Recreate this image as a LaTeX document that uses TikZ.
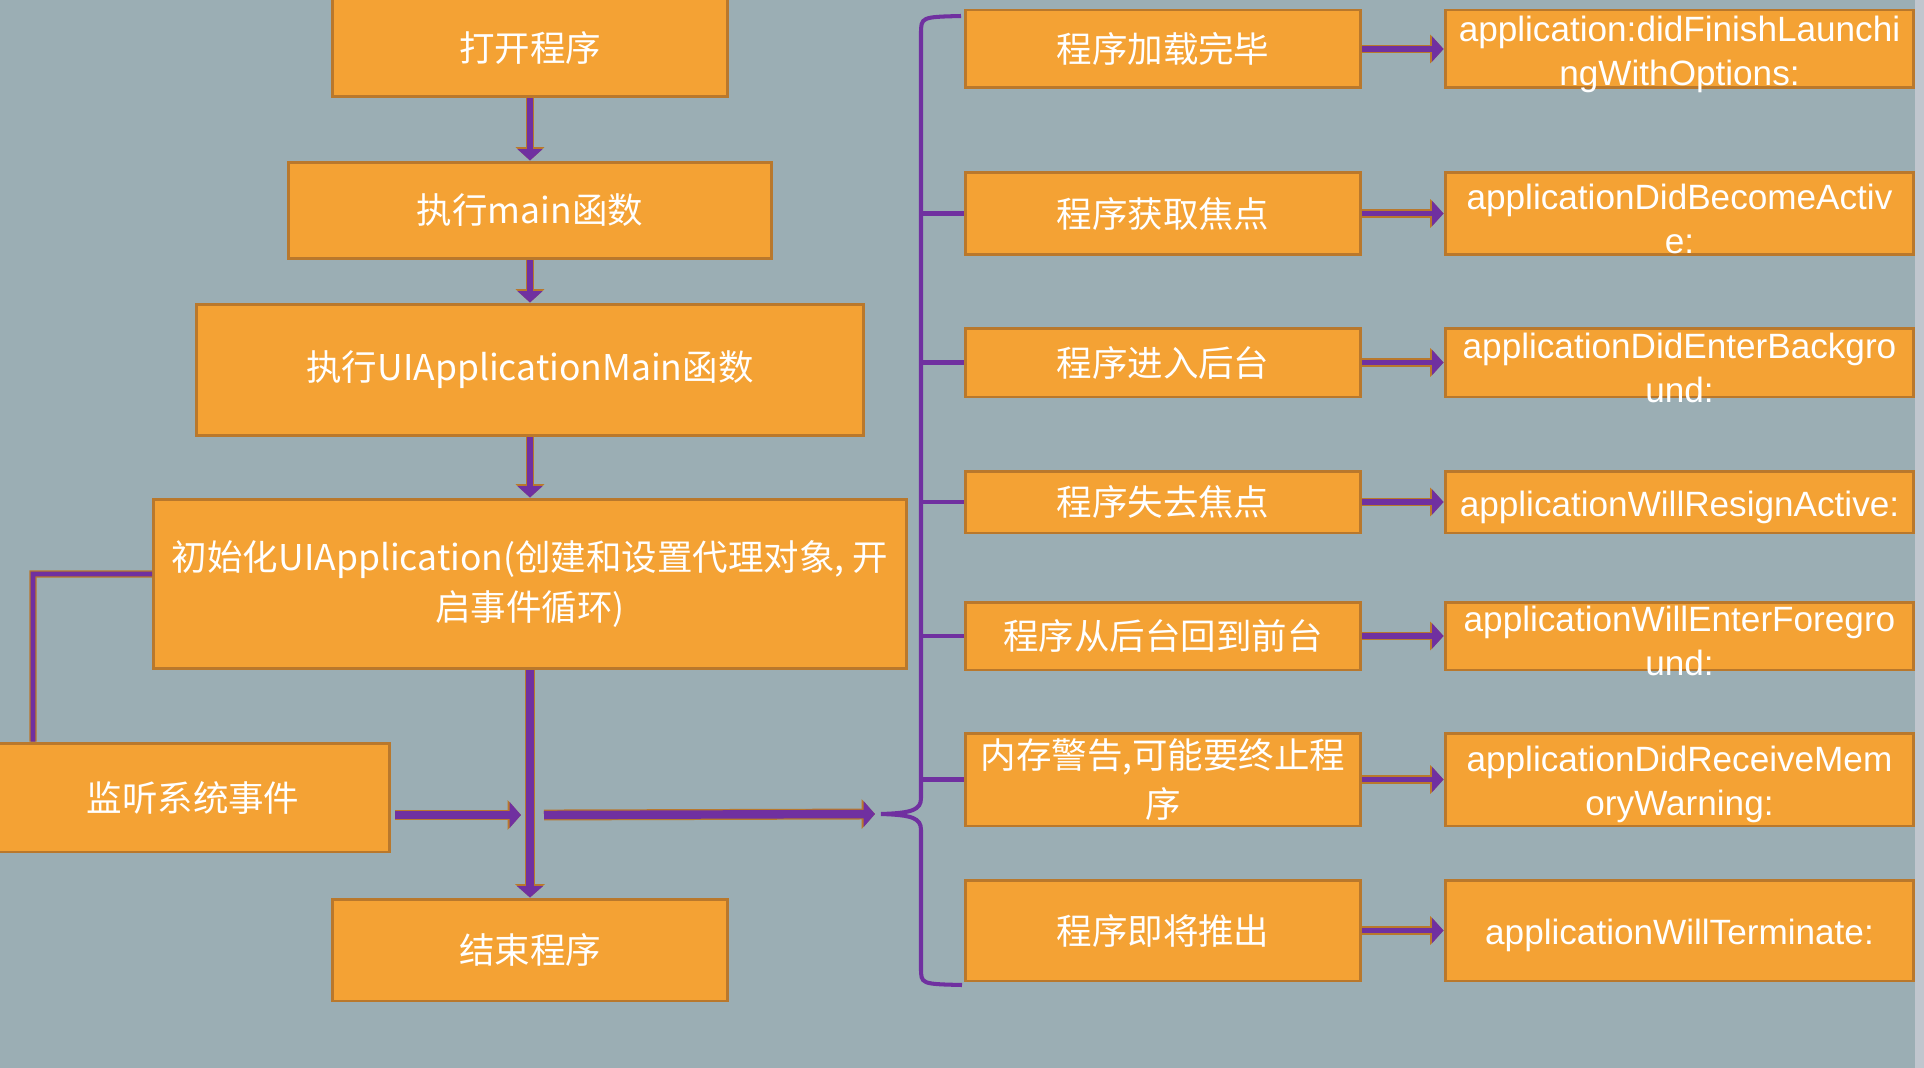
\documentclass[tikz,border=0pt]{standalone}
\usepackage{fontspec}
\newfontfamily\cjkfont{Noto Sans CJK SC}
\newfontfamily\apifont{Liberation Sans}
\usetikzlibrary{arrows.meta}
\definecolor{bgc}{RGB}{155,174,180}
\definecolor{orng}{RGB}{244,162,52}
\definecolor{obrown}{RGB}{185,120,44}
\definecolor{purp}{RGB}{112,48,160}
\definecolor{edgec}{RGB}{192,198,206}
\tikzset{
  box/.style={draw=obrown, fill=orng, line width=1.7pt, inner sep=0pt, text=white,
    align=center, font=\cjkfont\fontsize{20.2pt}{28.2pt}\selectfont},
  api/.style={text=white, inner sep=0pt, align=center, yshift=-0.1cm,
    font=\apifont\fontsize{20pt}{25pt}\selectfont},
  flow/.style={draw=purp, line width=3.4pt, -{Triangle[width=14pt,length=6.5pt]},
    preaction={draw=obrown, line width=4.6pt, -{Triangle[width=16pt,length=7.6pt]}}},
  flowb/.style={draw=purp, line width=4.8pt, -{Triangle[width=14.5pt,length=6.5pt]},
    preaction={draw=obrown, line width=6.2pt, -{Triangle[width=16.5pt,length=7.6pt]}}},
  link/.style={draw=purp, line width=2.8pt, preaction={draw=obrown, line width=4pt}},
  brace/.style={draw=purp, line width=2.3pt}
}

\begin{document}
\begin{tikzpicture}[x=0.02cm, y=-0.02cm]
    \useasboundingbox (0,0) rectangle (1924,1068);
    \fill[bgc] (0,0) rectangle (1924,1068);
    \fill[edgec] (1915,0) rectangle (1924,1068);

    % the brace on the right
    \coordinate (tip) at (881,814);
    \coordinate (spine) at (921,0);
    \draw[brace] (961,16) .. controls (921,17) .. (921,34) -- (921,798)
        .. controls (921,810) and (912,813) .. (tip)
        .. controls (912,815) and (921,818) .. (921,830) -- (921,968)
        .. controls (921,984) .. (962,985);

    % main flow
    \node[box, minimum width=7.92cm, minimum height=1.98cm] (open) at (530,47.5) {打开程序};
    \node[box, minimum width=9.68cm, minimum height=1.94cm] (mainf) at (530,210.5) {执行main函数};
    \node[box, minimum width=13.36cm, minimum height=2.64cm] (uimain) at (530,370) {执行UIApplicationMain函数};
    \node[box, minimum width=15.06cm, minimum height=3.4cm] (init) at (530,584) {初始化UIApplication(创建和设置代理对象, 开\\启事件循环)};
    \node[box, minimum width=7.88cm, minimum height=2.18cm] (listen) at (193,797.5) {监听系统事件};
    \node[box, minimum width=7.92cm, minimum height=2.04cm] (quit) at (530,950) {结束程序};

    \draw[flow] (open.south) -- (mainf.north);
    \draw[flow] (mainf.south) -- (uimain.north);
    \draw[flow] (uimain.south) -- (init.north);
    \draw[flowb] (init.south) -- (quit.north);

    \coordinate (bend) at (33,574);
    \draw[link] ([yshift=0.2cm]init.west) -- (bend) -- (bend |- listen.north);

    \coordinate (hub) at (530,815);
    \coordinate (lout) at (395,815);
    \draw[flowb] (lout) -- ([xshift=-0.18cm]hub);
    \draw[flowb] ([xshift=0.28cm]hub) -- ([xshift=-0.12cm]tip);

    % states and delegate methods
    \foreach \i/\y/\h/\stage/\cbname in {
        1/49/1.56/程序加载完毕/{application:didFinishLaunchi\\ngWithOptions:},
        2/213.5/1.66/程序获取焦点/{applicationDidBecomeActiv\\e:},
        3/362.5/1.38/程序进入后台/{applicationDidEnterBackgro\\und:},
        4/502/1.24/程序失去焦点/{applicationWillResignActive:},
        5/636/1.36/程序从后台回到前台/{applicationWillEnterForegro\\und:},
        6/779.5/1.86/{内存警告,可能要终止程\\序}/{applicationDidReceiveMem\\oryWarning:},
        7/930.5/2.02/程序即将推出/{applicationWillTerminate:}}
    {
        \node[box, minimum width=7.92cm, minimum height=\h cm] (s\i) at (1163,\y) {\stage};
        \node[box, minimum width=9.38cm, minimum height=\h cm] (r\i) at (1679.5,\y) {};
        \node[api] at (r\i) {\cbname};
        \draw[flow] (s\i) -- (r\i);
    }
    \foreach \i in {2,...,6}
        \draw[brace] (s\i.west -| spine) -- (s\i.west);
\end{tikzpicture}
\end{document}
